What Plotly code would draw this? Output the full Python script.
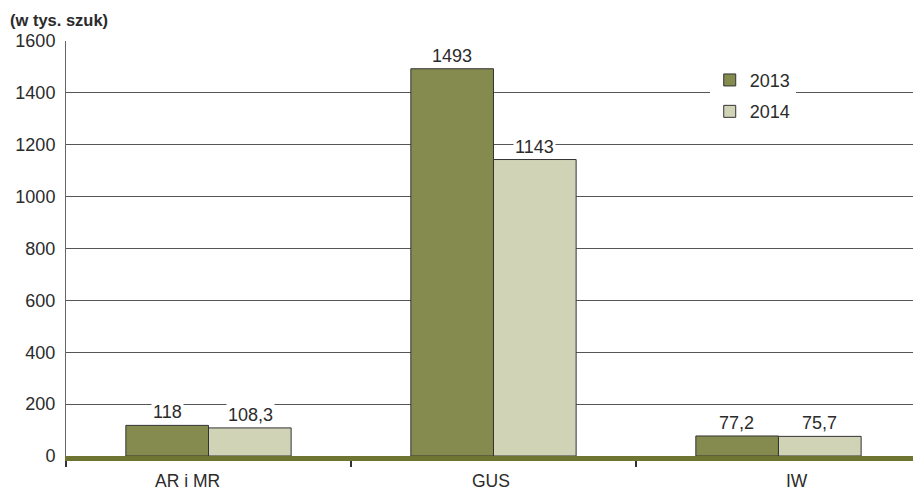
import plotly.graph_objects as go

categories = ["AR i MR", "GUS", "IW"]
values_2013 = [118, 1493, 77.2]
values_2014 = [108.3, 1143, 75.7]
labels_2013 = ["118", "1493", "77,2"]
labels_2014 = ["108,3", "1143", "75,7"]
y_ticks = [0, 200, 400, 600, 800, 1000, 1200, 1400, 1600]

C13 = "#858a4e"
C14 = "#d0d3b6"
OLIVE = "#6e7431"
TXT = "#2b2b2b"
FONT = "Liberation Sans, Arial, sans-serif"

fig = go.Figure()
fig.add_bar(x=categories, y=values_2013, name="2013", marker=dict(color=C13, line=dict(color="#333333", width=1)),
            legendgroup="a")
fig.add_bar(x=categories, y=values_2014, name="2014", marker=dict(color=C14, line=dict(color="#333333", width=1)),
            legendgroup="b")

bar_px = 83
for cat, v, t in zip(categories, values_2013, labels_2013):
    fig.add_annotation(x=cat, y=v, text=t, showarrow=False, xshift=-bar_px / 2, yshift=13,
                       bgcolor="white", font=dict(size=18, color=TXT, family=FONT), borderpad=1)
for cat, v, t in zip(categories, values_2014, labels_2014):
    fig.add_annotation(x=cat, y=v, text=t, showarrow=False, xshift=bar_px / 2, yshift=13,
                       bgcolor="white", font=dict(size=18, color=TXT, family=FONT), borderpad=1)

# category labels (positioned like the reference)
label_shift = [-21, -2, 19]
for cat, s in zip(categories, label_shift):
    fig.add_annotation(x=cat, y=0, yref="y", text=cat, showarrow=False, xshift=s, yshift=-25,
                       font=dict(size=17.5, color=TXT, family=FONT))

fig.add_annotation(x=0, y=1, xref="paper", yref="paper", xanchor="left", yanchor="bottom",
                   text="<b>(w tys. szuk)</b>", showarrow=False, xshift=-58, yshift=10,
                   font=dict(size=16.5, color=TXT, family=FONT))

fig.update_layout(
    width=913, height=491,
    margin=dict(l=66, r=0, t=41, b=35),
    paper_bgcolor="white", plot_bgcolor="white",
    barmode="group", bargap=0.42, bargroupgap=0,
    font=dict(family=FONT, color=TXT, size=17),
    showlegend=True,
    legend=dict(x=0.76, y=0.95, xanchor="left", yanchor="top", bgcolor="white",
                font=dict(size=18, color=TXT, family=FONT), traceorder="grouped", tracegroupgap=5,
                itemwidth=30),
)
fig.update_xaxes(
    range=[-0.5, 2.472], showline=True, linecolor=OLIVE, linewidth=5,
    ticks="outside", tickson="boundaries", ticklen=6, tickcolor="#333333", tickwidth=2,
    showgrid=False, showticklabels=False,
)
fig.update_yaxes(
    range=[0, 1600], tickvals=y_ticks, showgrid=True, gridcolor="#555555", gridwidth=1,
    showline=True, linecolor="#666666", linewidth=1, zeroline=False,
    tickfont=dict(size=18, color=TXT), ticks="", ticklabelstandoff=6,
)

fig.write_html("out.html")
